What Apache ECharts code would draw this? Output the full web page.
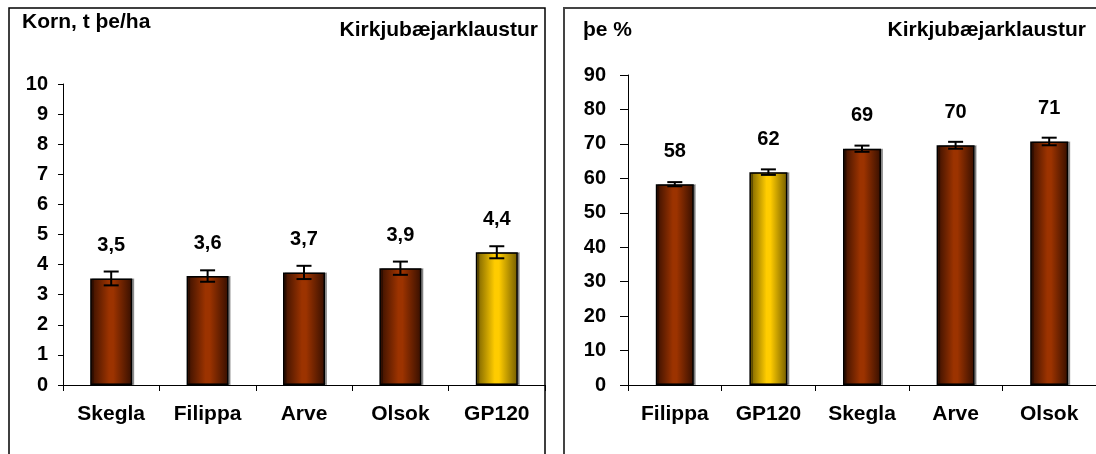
<!DOCTYPE html>
<html>
<head>
<meta charset="utf-8">
<script src="https://cdn.jsdelivr.net/npm/echarts@6/dist/echarts.min.js"></script>
<style>
  html, body { margin: 0; padding: 0; background: #fff; }
  #chart { width: 1096px; height: 454px; }
</style>
</head>
<body>
<div id="chart"></div>
<script>
// vinstri mynd: korn t þe/ha
const kornNames = ["Skegla", "Filippa", "Arve", "Olsok", "GP120"];
const kornMean = [3.54, 3.62, 3.74, 3.88, 4.41];
const kornErr = [0.23, 0.19, 0.22, 0.22, 0.2];
const kornTicks = [0, 10, 1];

// hægri mynd: þe %
const theNames = ["Filippa", "GP120", "Skegla", "Arve", "Olsok"];
const theMean = [58.3, 61.8, 68.6, 69.6, 70.7];
const theErr = [0.6, 0.8, 0.9, 1.0, 1.1];
const theTicks = [0, 90, 10];

const yellowName = "GP120";
const FONT = "'Liberation Sans', Arial, sans-serif";

function grad(c1, c2) {
  return new echarts.graphic.LinearGradient(0, 0, 1, 0, [
    { offset: 0, color: c1 },
    { offset: 0.45, color: c2 },
    { offset: 0.55, color: c2 },
    { offset: 1, color: c1 }
  ]);
}
const brown = grad("#360f00", "#9c3300");
const yellow = grad("#735c00", "#ffcc00");

function barData(names, vals) {
  return vals.map((v, i) => ({
    value: v,
    itemStyle: { color: names[i] == yellowName ? yellow : brown }
  }));
}
function errData(vals, errs) {
  return vals.map((v, i) => [i, v - errs[i], v + errs[i]]);
}

// villustrik
function drawErr(params, api) {
  let lo = api.coord([api.value(0), api.value(1)]);
  let hi = api.coord([api.value(0), api.value(2)]);
  let w = 7.5;
  let st = { stroke: "#000", lineWidth: 2 };
  return {
    type: "group",
    children: [
      { type: "line", shape: { x1: hi[0], y1: hi[1], x2: lo[0], y2: lo[1] }, style: st },
      { type: "line", shape: { x1: hi[0] - w, y1: hi[1], x2: hi[0] + w, y2: hi[1] }, style: st },
      { type: "line", shape: { x1: lo[0] - w, y1: lo[1], x2: lo[0] + w, y2: lo[1] }, style: st }
    ]
  };
}

const txt = { fontFamily: FONT, fontWeight: "bold", fontSize: 20, color: "#000" };

function xAx(idx, names) {
  return {
    type: "category",
    gridIndex: idx,
    data: names,
    axisLine: { lineStyle: { color: "#000", width: 1 } },
    axisTick: { show: true, length: 6, lineStyle: { color: "#000" } },
    axisLabel: Object.assign({ margin: 19 }, txt, { fontSize: 21 }),
    splitLine: { show: false }
  };
}
function yAx(idx, t, tickLen, margin) {
  return {
    type: "value",
    gridIndex: idx,
    min: t[0],
    max: t[1],
    interval: t[2],
    axisLine: { show: true, lineStyle: { color: "#000", width: 1 } },
    axisTick: { show: true, length: tickLen, lineStyle: { color: "#000" } },
    axisLabel: Object.assign({ margin: margin }, txt),
    splitLine: { show: false }
  };
}

const barStyle = {
  borderColor: "#000",
  borderWidth: 1.5,
  shadowColor: "rgba(0,0,0,0.35)",
  shadowOffsetX: 2,
  shadowOffsetY: 0,
  shadowBlur: 0
};

var chart = echarts.init(document.getElementById("chart"));
chart.setOption({
  animation: false,
  title: [
    { text: "Korn, t þe/ha", left: 22, top: 12, padding: 0, textStyle: Object.assign({}, txt, { fontSize: 21 }) },
    { text: "Kirkjubæjarklaustur", right: 1096 - 538, top: 20, padding: 0, textStyle: Object.assign({}, txt, { fontSize: 21 }) },
    { text: "þe %", left: 583, top: 20, padding: 0, textStyle: Object.assign({}, txt, { fontSize: 21 }) },
    { text: "Kirkjubæjarklaustur", right: 1096 - 1086, top: 20, padding: 0, textStyle: Object.assign({}, txt, { fontSize: 21 }) }
  ],
  graphic: [
    { type: "rect", shape: { x: 9, y: 8, width: 536, height: 470 }, style: { fill: "none", stroke: "#000", lineWidth: 1.5 } },
    { type: "rect", shape: { x: 564, y: 8, width: 545, height: 470 }, style: { fill: "none", stroke: "#444", lineWidth: 2 } }
  ],
  grid: [
    { left: 63, top: 84, width: 482, height: 301 },
    { left: 628, top: 75, width: 472, height: 310 }
  ],
  xAxis: [xAx(0, kornNames), xAx(1, theNames)],
  yAxis: [yAx(0, kornTicks, 5, 15), yAx(1, theTicks, 8, 22)],
  series: [
    {
      type: "bar",
      xAxisIndex: 0,
      yAxisIndex: 0,
      barWidth: 42,
      data: barData(kornNames, kornMean),
      itemStyle: barStyle,
      label: Object.assign({
        show: true,
        position: "top",
        distance: 23,
        formatter: p => p.value.toFixed(1).replace(".", ",")
      }, txt)
    },
    {
      type: "custom",
      xAxisIndex: 0,
      yAxisIndex: 0,
      renderItem: drawErr,
      data: errData(kornMean, kornErr),
      z: 10
    },
    {
      type: "bar",
      xAxisIndex: 1,
      yAxisIndex: 1,
      barWidth: 38,
      data: barData(theNames, theMean),
      itemStyle: barStyle,
      label: Object.assign({
        show: true,
        position: "top",
        distance: 23,
        formatter: p => String(Math.round(p.value))
      }, txt)
    },
    {
      type: "custom",
      xAxisIndex: 1,
      yAxisIndex: 1,
      renderItem: drawErr,
      data: errData(theMean, theErr),
      z: 10
    }
  ]
});
</script>
</body>
</html>
